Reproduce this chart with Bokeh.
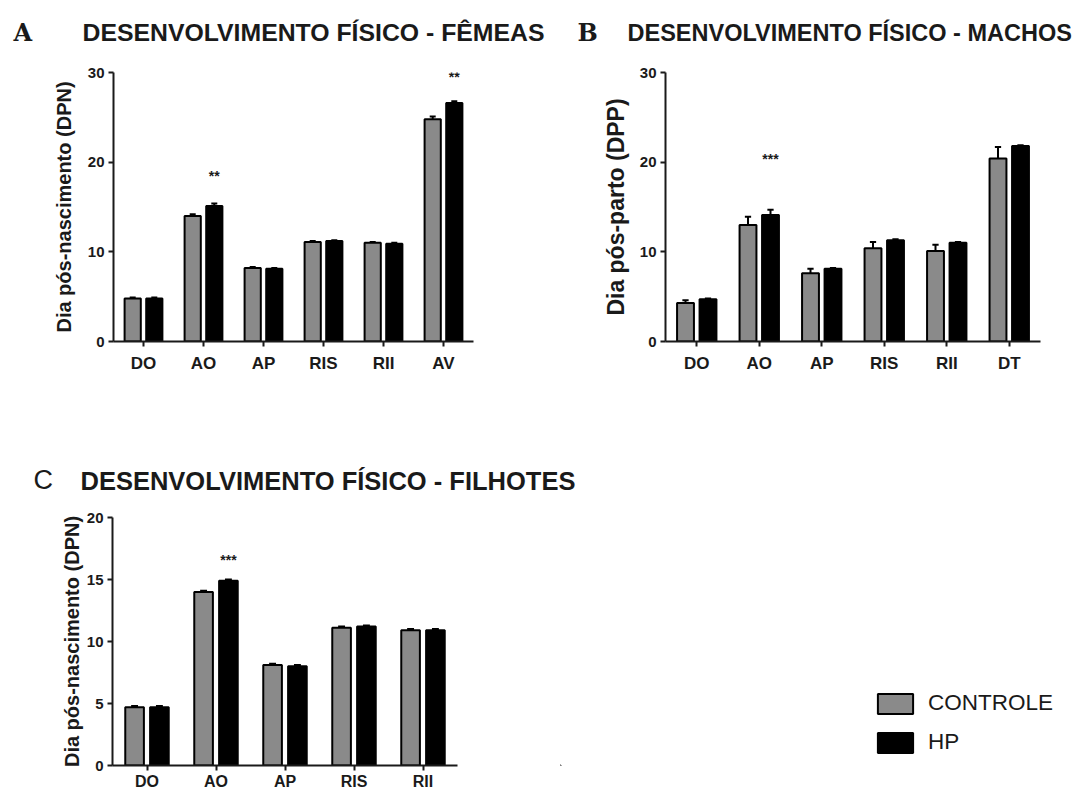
from bokeh.plotting import figure
from bokeh.models import (ColumnDataSource, FactorRange, Range1d, FixedTicker,
                          Legend, LegendItem)
from bokeh.transform import dodge
from bokeh.layouts import column, row
from bokeh.embed import file_html
from bokeh.resources import INLINE
from bokeh.core.properties import value

# ---- Panel A: females ----
cats_a = ["DO", "AO", "AP", "RIS", "RII", "AV"]
ctrl_a = [4.8, 14.0, 8.2, 11.1, 11.0, 24.8]
ctrl_a_err = [0.1, 0.2, 0.1, 0.1, 0.1, 0.3]
hp_a = [4.8, 15.1, 8.1, 11.2, 10.9, 26.6]
hp_a_err = [0.1, 0.3, 0.1, 0.1, 0.1, 0.2]
sig_a_cats = ["AO", "AV"]
sig_a_text = ["**", "**"]
sig_a_y = [18.5, 29.5]

# ---- Panel B: males ----
cats_b = ["DO", "AO", "AP", "RIS", "RII", "DT"]
ctrl_b = [4.3, 13.0, 7.6, 10.4, 10.1, 20.4]
ctrl_b_err = [0.3, 0.9, 0.5, 0.7, 0.7, 1.3]
hp_b = [4.7, 14.1, 8.1, 11.3, 11.0, 21.8]
hp_b_err = [0.1, 0.6, 0.1, 0.1, 0.1, 0.1]
sig_b_cats = ["AO"]
sig_b_text = ["***"]
sig_b_y = [20.4]

# ---- Panel C: pups ----
cats_c = ["DO", "AO", "AP", "RIS", "RII"]
ctrl_c = [4.7, 14.0, 8.1, 11.1, 10.9]
ctrl_c_err = [0.1, 0.1, 0.1, 0.1, 0.1]
hp_c = [4.7, 14.9, 8.0, 11.2, 10.9]
hp_c_err = [0.1, 0.1, 0.1, 0.1, 0.1]
sig_c_cats = ["AO"]
sig_c_text = ["***"]
sig_c_y = [16.6]

panel_letters = ["A", "B", "C"]
panel_titles = ["DESENVOLVIMENTO FÍSICO - FÊMEAS",
                "DESENVOLVIMENTO FÍSICO - MACHOS",
                "DESENVOLVIMENTO FÍSICO - FILHOTES"]
series_names = ["CONTROLE", "HP"]
ctrl_color = "#8a8a8a"
hp_color = "#000000"
FONT = "Liberation Sans"
INK = "#1a1a1a"


def bare_figure(width, height, x_range, y_range):
    f = figure(width=width, height=height, x_range=x_range, y_range=y_range,
               output_backend="svg", toolbar_location=None,
               x_axis_location=None, y_axis_location=None, min_border=0)
    f.outline_line_color = None
    f.xgrid.visible = False
    f.ygrid.visible = False
    return f


def header(width, height, entries):
    """A strip holding panel letters and titles; y runs downward in pixels."""
    h = bare_figure(width, height, Range1d(0, width), Range1d(height, 0))
    for x, y, txt, font, style, size in entries:
        h.text(x=[x], y=[y], text=[txt], text_font=value(font), text_font_style=style,
               text_font_size=size, text_baseline="alphabetic", text_align="left",
               text_color=INK)
    return h


def make_panel(cats, ctrl, ctrl_err, hp, hp_err, sig_cats, sig_text, sig_y,
               y_max, ticks, ylabel, width, height, borders, label_size, label_standoff,
               cat_size="17px", cat_standoff=7):
    left, right, top, bottom = borders
    p = figure(width=width, height=height, x_range=FactorRange(*cats, range_padding=0),
               y_range=Range1d(0, y_max), output_backend="svg", toolbar_location=None,
               min_border_left=left, min_border_right=right,
               min_border_top=top, min_border_bottom=bottom)
    p.outline_line_color = None
    p.xgrid.visible = False
    p.ygrid.visible = False

    src = ColumnDataSource(dict(
        cats=cats, ctrl=ctrl, hp=hp,
        ctrl_top=[v + e for v, e in zip(ctrl, ctrl_err)],
        hp_top=[v + e for v, e in zip(hp, hp_err)],
    ))
    off = 0.18
    bw = 0.27
    cap = 0.05

    # error bars (upper half, drawn above each bar)
    for name, o in (("ctrl", -off), ("hp", off)):
        p.segment(x0=dodge("cats", o, range=p.x_range), y0=name,
                  x1=dodge("cats", o, range=p.x_range), y1=name + "_top",
                  source=src, line_color="black", line_width=2)
        p.segment(x0=dodge("cats", o - cap, range=p.x_range), y0=name + "_top",
                  x1=dodge("cats", o + cap, range=p.x_range), y1=name + "_top",
                  source=src, line_color="black", line_width=2)

    p.vbar(x=dodge("cats", -off, range=p.x_range), top="ctrl", width=bw,
           source=src, fill_color=ctrl_color, line_color="black", line_width=2)
    p.vbar(x=dodge("cats", off, range=p.x_range), top="hp", width=bw,
           source=src, fill_color=hp_color, line_color="black", line_width=2)

    sig = ColumnDataSource(dict(cats=sig_cats, y=sig_y, txt=sig_text))
    p.text(x=dodge("cats", off, range=p.x_range), y="y", text="txt", source=sig,
           text_align="center", text_baseline="middle", text_font_size="14px",
           text_font=value(FONT), text_font_style="bold", text_color=INK)

    for ax in (p.xaxis[0], p.yaxis[0]):
        ax.axis_line_width = 2
        ax.axis_line_color = INK
        ax.major_tick_line_width = 2
        ax.major_tick_line_color = INK
        ax.major_tick_in = 0
        ax.major_tick_out = 5
        ax.minor_tick_line_color = None
        ax.major_label_text_font = FONT
        ax.major_label_text_font_style = "bold"
        ax.major_label_text_color = INK
    p.xaxis.major_label_text_font_size = cat_size
    p.xaxis.major_label_standoff = cat_standoff
    p.yaxis.major_label_text_font_size = "15px"
    p.yaxis.major_label_standoff = 4
    p.yaxis.ticker = FixedTicker(ticks=ticks)
    p.yaxis.axis_label = ylabel
    p.yaxis.axis_label_text_font = FONT
    p.yaxis.axis_label_text_font_style = "bold"
    p.yaxis.axis_label_text_font_size = label_size
    p.yaxis.axis_label_text_color = INK
    p.yaxis.axis_label_standoff = label_standoff
    return p


# top strip: letters A / B and their titles
hdr1 = header(1082, 60, [
    (13, 32, panel_letters[0], "DejaVu Serif", "bold", "24px"),
    (82, 32, panel_titles[0], FONT, "bold", "24.8px"),
    (577, 32, panel_letters[1], "DejaVu Serif", "bold", "24px"),
    (627, 32, panel_titles[1], FONT, "bold", "23.5px"),
])

pA = make_panel(cats_a, ctrl_a, ctrl_a_err, hp_a, hp_a_err,
                sig_a_cats, sig_a_text, sig_a_y,
                30, [0, 10, 20, 30], "Dia pós-nascimento (DPN)", 556, 340,
                (113, 83, 11, 59), "20px", 10)
pB = make_panel(cats_b, ctrl_b, ctrl_b_err, hp_b, hp_b_err,
                sig_b_cats, sig_b_text, sig_b_y,
                30, [0, 10, 20, 30], "Dia pós-parto (DPP)", 526, 340,
                (109, 42, 12, 56), "23px", 8)

# middle strip: letter C and its title
hdr2 = header(1082, 105, [
    (33, 79, panel_letters[2], FONT, "normal", "27px"),
    (80, 80, panel_titles[2], FONT, "bold", "25.5px"),
])

pC = make_panel(cats_c, ctrl_c, ctrl_c_err, hp_c, hp_c_err,
                sig_c_cats, sig_c_text, sig_c_y,
                20, [0, 5, 10, 15, 20], "Dia pós-nascimento (DPN)", 560, 287,
                (112, 103, 12, 26), "20px", 1, cat_size="16px", cat_standoff=2)

# legend area beside panel C; the key swatches sit far outside the visible range
pL = bare_figure(522, 287, Range1d(0, 1), Range1d(0, 1))
key_ctrl = pL.vbar(x=[-5.0], bottom=[-6.0], top=[-5.0], width=0.1,
                   fill_color=ctrl_color, line_color="black", line_width=2)
key_hp = pL.vbar(x=[-5.0], bottom=[-6.0], top=[-5.0], width=0.1,
                 fill_color=hp_color, line_color="black", line_width=2)
legend = Legend(items=[LegendItem(label=series_names[0], renderers=[key_ctrl]),
                       LegendItem(label=series_names[1], renderers=[key_hp])],
                location=(313, 10))
legend.border_line_color = None
legend.background_fill_alpha = 0
legend.padding = 0
legend.margin = 0
legend.spacing = 13
legend.glyph_width = 44
legend.glyph_height = 25
legend.label_standoff = 11
legend.label_text_font = FONT
legend.label_text_font_size = "22.5px"
legend.label_text_color = INK
legend.label_height = 25
pL.add_layout(legend)

# each strip sits in its own row so that plot frames are not aligned across strips
layout = column(row(hdr1), row(pA, pB), row(hdr2), row(pC, pL))
open("out.html", "w").write(file_html(layout, INLINE))
